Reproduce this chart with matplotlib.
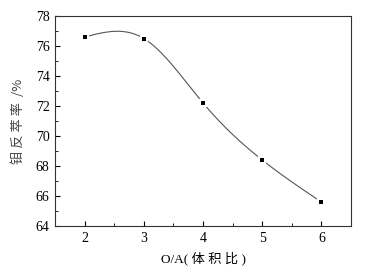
import numpy as np
import matplotlib
matplotlib.use("Agg")
import matplotlib.pyplot as plt
from matplotlib.ticker import MultipleLocator

ratio = [2, 3, 4, 5, 6]
strip_rate = [76.6, 76.5, 72.2, 68.4, 65.6]
xticks = [2, 3, 4, 5, 6]
yticks = [64, 66, 68, 70, 72, 74, 76, 78]


def natural_spline(x, y, xs):
    x = np.asarray(x, float); y = np.asarray(y, float)
    n = len(x)
    h = np.diff(x)
    A = np.zeros((n, n)); b = np.zeros(n)
    A[0, 0] = 1; A[-1, -1] = 1
    for i in range(1, n - 1):
        A[i, i - 1] = h[i - 1]
        A[i, i] = 2 * (h[i - 1] + h[i])
        A[i, i + 1] = h[i]
        b[i] = 3 * ((y[i + 1] - y[i]) / h[i] - (y[i] - y[i - 1]) / h[i - 1])
    c = np.linalg.solve(A, b)
    out = np.empty_like(xs)
    for k, xv in enumerate(xs):
        i = min(np.searchsorted(x, xv) - 1, n - 2)
        i = max(i, 0)
        bi = (y[i + 1] - y[i]) / h[i] - h[i] * (2 * c[i] + c[i + 1]) / 3
        di = (c[i + 1] - c[i]) / (3 * h[i])
        dx = xv - x[i]
        out[k] = y[i] + bi * dx + c[i] * dx ** 2 + di * dx ** 3
    return out


fig = plt.figure(figsize=(3.75, 2.76), dpi=100)
ax = fig.add_axes([0.147, 0.181, 0.789, 0.761])

xs = np.linspace(ratio[0], ratio[-1], 300)
ax.plot(xs, natural_spline(ratio, strip_rate, xs), color="#555555", lw=0.8, zorder=2)
ax.plot(ratio, strip_rate, ls="none", marker="s", ms=3.0, color="black",
        mec="white", mew=3.0, zorder=3)
ax.plot(ratio, strip_rate, ls="none", marker="s", ms=2.6, color="black", mew=0, zorder=4)

ax.set_xlim(1.5, 6.5)
ax.set_ylim(64, 78)
ax.set_xticks(xticks)
ax.set_yticks(yticks)
ax.xaxis.set_minor_locator(MultipleLocator(0.5))
ax.yaxis.set_minor_locator(MultipleLocator(1))
ax.tick_params(which="both", direction="in", top=False, right=False)
ax.tick_params(which="major", length=3.5, width=0.8, labelsize=10, pad=4)
ax.tick_params(which="minor", length=2, width=0.6)
for lab in ax.get_xticklabels() + ax.get_yticklabels():
    lab.set_fontfamily("Liberation Serif")
for s in ax.spines.values():
    s.set_linewidth(0.8)
    s.set_color("#333333")

ax.set_xlabel("O/A( 体 积 比 )", family=["Liberation Serif", "Noto Sans CJK SC"],
              fontsize=9.5, labelpad=5)
ax.set_ylabel("钼 反 萃 率  /%", family=["Noto Sans CJK SC", "Liberation Serif"],
              fontsize=9.5, color="#444444", labelpad=8)

fig.savefig("out.png", dpi=100)
